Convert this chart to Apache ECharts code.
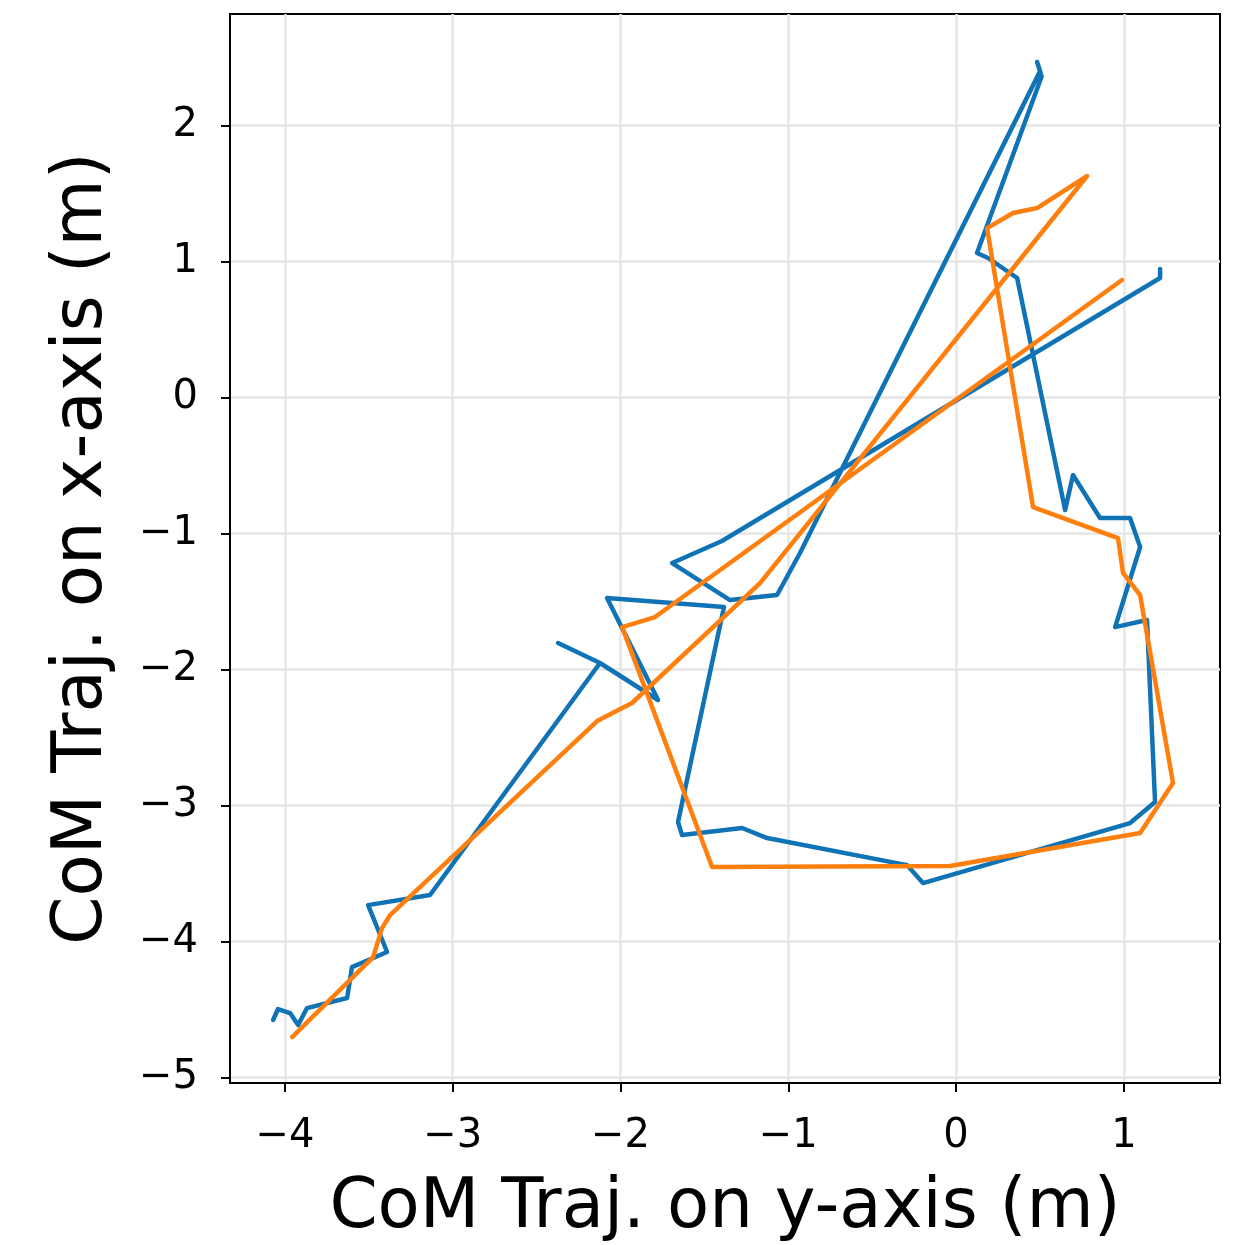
<!DOCTYPE html>
<html>
<head>
<meta charset="utf-8">
<title>CoM Trajectory</title>
<script src="https://cdn.jsdelivr.net/npm/echarts@6/dist/echarts.min.js"></script>
<style>
  html, body { margin: 0; padding: 0; background: #ffffff; }
  #chart { width: 1241px; height: 1245px; }
</style>
</head>
<body>
<div id="chart"></div>
<script>
// Tick positions shown on each axis
const xTicks = [-4, -3, -2, -1, 0, 1];
const yTicks = [-5, -4, -3, -2, -1, 0, 1, 2];

// First trajectory (blue): y-axis position, x-axis position
const blueX = [-4.070, -4.041, -3.969, -3.921, -3.868, -3.629, -3.600, -3.391, -3.451, -3.504,
  -3.135, -2.122, -2.372, -2.122, -1.776, -2.080, -1.383, -1.657, -1.633, -1.275,
  -1.126, -0.292, -0.197, 1.037, 1.186, 1.138, 0.948, 1.097, 1.037, 0.858,
  0.697, 0.650, 0.364, 0.191, 0.125, 0.510, 0.483, 0.501, -0.930, -1.067,
  -1.347, -1.692, -1.395, 1.216, 1.216];
const blueY = [-4.577, -4.496, -4.526, -4.614, -4.489, -4.415, -4.188, -4.077, -3.893, -3.732,
  -3.658, -1.952, -1.805, -1.952, -2.224, -1.474, -1.540, -3.121, -3.217, -3.165,
  -3.239, -3.438, -3.570, -3.129, -2.974, -1.636, -1.688, -1.099, -0.886, -0.886,
  -0.570, -0.827, 0.879, 1.026, 1.063, 2.360, 2.467, 2.400, -1.143, -1.452,
  -1.489, -1.217, -1.055, 0.879, 0.945];

// Second trajectory (orange)
const orangeX = [-3.957, -3.474, -3.421, -3.373, -2.139, -1.931, -1.168, 0.781, 0.483, 0.340,
  0.185, 0.459, 0.965, 0.995, 1.097, 1.293, 1.097, -0.036, -1.454, -1.990,
  -1.794, 0.989];
const orangeY = [-4.702, -4.114, -3.901, -3.805, -2.379, -2.246, -1.364, 1.629, 1.393, 1.357,
  1.246, -0.805, -1.033, -1.290, -1.452, -2.835, -3.202, -3.445, -3.452, -1.688,
  -1.614, 0.864];

const zip = (xs, ys) => xs.map((x, i) => [x, ys[i]]);
const minus = v => String(v).replace('-', '\u2212');
const FONT = 'DejaVu Sans';

const chart = echarts.init(document.getElementById('chart'), null, { renderer: 'canvas' });

const axisCommon = {
  type: 'value',
  nameLocation: 'middle',
  nameTextStyle: { fontFamily: FONT, fontSize: 69, color: '#000' },
  axisLine: { show: true, onZero: false, lineStyle: { color: '#000', width: 2 } },
  splitLine: { show: true, lineStyle: { color: '#e6e6e6', width: 2.5 } }
};

chart.setOption({
  backgroundColor: '#ffffff',
  animation: false,
  grid: {
    left: 230, right: 21, top: 14, bottom: 162,
    outerBoundsMode: 'none',
    containLabel: false,
    show: true, borderColor: '#000', borderWidth: 2, backgroundColor: 'transparent'
  },
  xAxis: Object.assign({}, axisCommon, {
    name: 'CoM Traj. on y-axis (m)',
    nameGap: 92,
    min: -4.327, max: 1.573,
    axisTick: { show: true, inside: false, length: 9, customValues: xTicks,
      lineStyle: { color: '#000', width: 2 } },
    axisLabel: { customValues: xTicks, margin: 34, fontFamily: FONT, fontSize: 40, color: '#000',
      formatter: minus }
  }),
  yAxis: Object.assign({}, axisCommon, {
    name: 'CoM Traj. on x-axis (m)',
    nameGap: 112,
    min: -5.04, max: 2.82,
    axisTick: { show: true, inside: false, length: 9, customValues: yTicks,
      lineStyle: { color: '#000', width: 2 } },
    axisLabel: { customValues: yTicks, margin: 32, fontFamily: FONT, fontSize: 40, color: '#000',
      formatter: minus }
  }),
  series: [
    {
      type: 'line',
      data: zip(blueX, blueY),
      showSymbol: false,
      symbol: 'none',
      lineStyle: { color: '#0f73b6', width: 4.5, join: 'round', cap: 'round' },
      z: 3
    },
    {
      type: 'line',
      data: zip(orangeX, orangeY),
      showSymbol: false,
      symbol: 'none',
      lineStyle: { color: '#ff7f0e', width: 4.5, join: 'round', cap: 'round' },
      z: 4
    }
  ]
});
</script>
</body>
</html>
